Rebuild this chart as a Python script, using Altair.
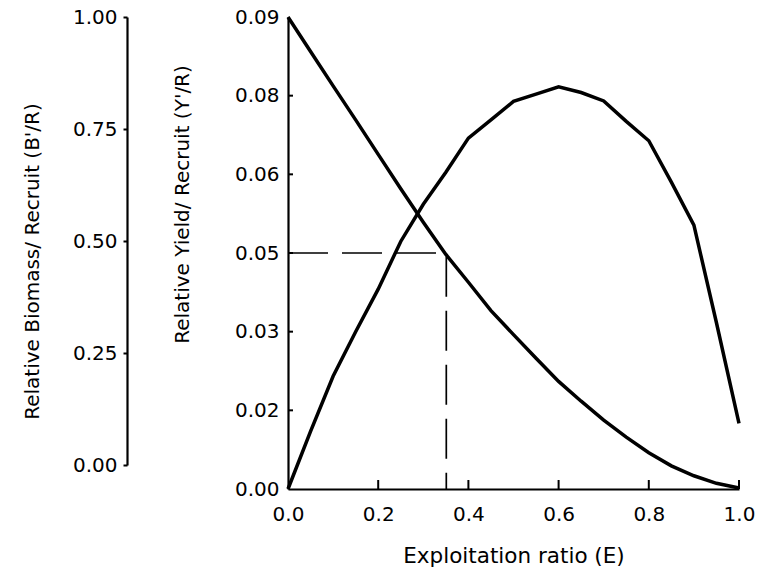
import altair as alt
import pandas as pd

# Exploitation ratio (E) and the two relative per-recruit curves
E = [0.00, 0.05, 0.10, 0.15, 0.20, 0.25, 0.30, 0.35, 0.40, 0.45, 0.50,
     0.55, 0.60, 0.65, 0.70, 0.75, 0.80, 0.85, 0.90, 0.95, 1.00]
YIELD_PER_RECRUIT = [0.0000, 0.0110, 0.0215, 0.0300, 0.0381, 0.0472, 0.0543, 0.0604,
                     0.0669, 0.0704, 0.0739, 0.0753, 0.0767, 0.0756, 0.0740, 0.0701,
                     0.0664, 0.0585, 0.0503, 0.0317, 0.0125]
BIOMASS_PER_RECRUIT = [1.000, 0.927, 0.854, 0.782, 0.709, 0.636, 0.565, 0.497,
                       0.438, 0.378, 0.327, 0.277, 0.228, 0.186, 0.146, 0.110,
                       0.077, 0.049, 0.028, 0.012, 0.002]

# E at which biomass per recruit falls to half of its unexploited level
E50 = 0.351
B50 = 0.5

# Axis ticks and their printed labels
X_TICKS = [0.0, 0.2, 0.4, 0.6, 0.8, 1.0]
Y_TICKS = [0.0, 0.015, 0.03, 0.045, 0.06, 0.075, 0.09]
Y_TICK_LABELS = ["0.00", "0.02", "0.03", "0.05", "0.06", "0.08", "0.09"]
B_TICKS = [0.0, 0.25, 0.5, 0.75, 1.0]

W, H = 451, 472
FONT = "DejaVu Sans"

curves = pd.DataFrame({"E": E, "Y": YIELD_PER_RECRUIT, "B": BIOMASS_PER_RECRUIT})
guide = pd.DataFrame({"E": [0.0, E50, E50], "B": [B50, B50, 0.0], "k": [0, 1, 2]})
ytick_df = pd.DataFrame({"Y": Y_TICKS[1:-1]})
xtick_df = pd.DataFrame({"E": X_TICKS[1:]})
btick_df = pd.DataFrame({"B": B_TICKS})

x_scale = alt.Scale(domain=[0, 1], nice=False)
x_axis = alt.Axis(
    values=X_TICKS, format=".1f", title="Exploitation ratio (E)",
    ticks=False, labelPadding=15, labelFlush=False, labelOverlap=False,
    titleX=W / 2, titleY=73, titleBaseline="alphabetic", titleFontSize=21.5,
)
x_enc = alt.X("E:Q", scale=x_scale, axis=x_axis)

y_scale = alt.Scale(domain=[0, 0.09], nice=False, zero=False)
b_scale = alt.Scale(domain=[0, 1], nice=False, zero=False)

label_lookup = "[" + ",".join(f"'{s}'" for s in Y_TICK_LABELS) + "]"

yield_line = alt.Chart(curves).mark_line(color="black", strokeWidth=3.5).encode(
    x=x_enc,
    y=alt.Y("Y:Q", scale=y_scale, axis=alt.Axis(
        orient="left", values=Y_TICKS,
        labelExpr=f"{label_lookup}[round(datum.value / 0.015)]",
        ticks=False, labelPadding=9, labelFlush=False, labelOverlap=False,
        title="Relative Yield/ Recruit (Y'/R)",
        titleX=-100, titleY=187, titleBaseline="alphabetic",
    )),
)

biomass_line = alt.Chart(curves).mark_line(color="black", strokeWidth=3.5).encode(
    x=x_enc,
    y=alt.Y("B:Q", scale=b_scale, axis=None),
)

half_biomass = alt.Chart(guide).mark_line(
    color="black", strokeWidth=1.7, strokeDash=[40, 14]
).encode(
    x=x_enc,
    y=alt.Y("B:Q", scale=b_scale, axis=None),
    order="k:O",
)

y_ticks = alt.Chart(ytick_df).mark_rule(color="black", strokeWidth=2).encode(
    y=alt.Y("Y:Q", scale=y_scale, axis=None),
    x=alt.value(0), x2=alt.value(5),
)

x_ticks = alt.Chart(xtick_df).mark_rule(color="black", strokeWidth=2).encode(
    x=x_enc,
    y=alt.value(H), y2=alt.value(H - 9),
)

# Separate biomass axis drawn further left over its own span
biomass_axis = alt.Chart(btick_df).mark_point(opacity=0).encode(
    y=alt.Y("B:Q", scale=alt.Scale(domain=[0, 1], range=[448, 0], nice=False, zero=False),
            axis=alt.Axis(
                orient="left", offset=161, values=B_TICKS, format=".2f",
                ticks=True, tickSize=4, tickWidth=2, tickColor="black",
                labelPadding=6, labelFlush=False, labelOverlap=False,
                title="Relative Biomass/ Recruit (B'/R)",
                titleX=-89, titleY=244, titleBaseline="alphabetic",
            )),
)

chart = alt.layer(
    yield_line, biomass_line, half_biomass, y_ticks, x_ticks, biomass_axis
).resolve_scale(y="independent").properties(
    width=W, height=H,
    autosize=alt.AutoSizeParams(type="none"),
    padding={"left": 288, "top": 17, "right": 23, "bottom": 85},
    background="white",
).configure_view(stroke=None).configure_axis(
    grid=False,
    domainColor="black", domainWidth=2.2,
    labelFont=FONT, labelFontSize=20, labelColor="black",
    titleFont=FONT, titleFontSize=20, titleFontWeight="normal", titleColor="black",
)

chart.save("out.html", embed_options={"renderer": "svg", "actions": False})
